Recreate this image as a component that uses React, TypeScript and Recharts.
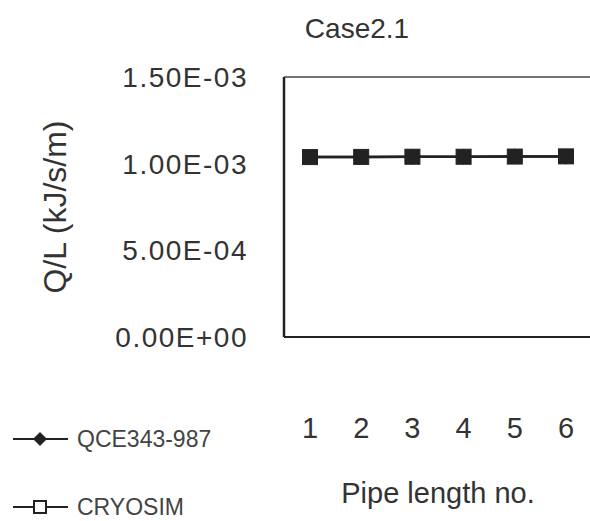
import React from 'react';
import { LineChart, Line, XAxis, YAxis, ReferenceLine, Label } from 'recharts';

const pipeNos = ['1', '2', '3', '4', '5', '6'];
const qce343 = [0.001038, 0.001039, 0.00104, 0.00104, 0.001041, 0.001042];
const cryosim = [0.001038, 0.001039, 0.00104, 0.00104, 0.001041, 0.001042];
const yTicks = [0, 0.0005, 0.001, 0.0015];
const yTickLabels = ['0.00E+00', '5.00E-04', '1.00E-03', '1.50E-03'];
const seriesNames = ['QCE343-987', 'CRYOSIM'];

const data = pipeNos.map((no, i) => ({ no, qce: qce343[i], cryo: cryosim[i] }));

const FONT = '"Liberation Sans", Arial, sans-serif';
const INK = '#222';
const TEXT = '#333';

const DiamondDot = ({ cx, cy }: any) => (
  <path d={`M${cx},${cy - 8} L${cx + 8},${cy} L${cx},${cy + 8} L${cx - 8},${cy} Z`} fill={INK} />
);

const SquareDot = ({ cx, cy }: any) => (
  <rect x={cx - 7.5} y={cy - 7.5} width={15} height={15} fill={INK} stroke={INK} strokeWidth={1} />
);

const XTick = ({ x, y, payload }: any) => (
  <text x={x} y={y + 91} textAnchor="middle" dominantBaseline="central" fontSize={29} fontFamily={FONT} fill={TEXT}>
    {payload.value}
  </text>
);

// legend drawn beside the chart, bottom left
const LegendBox = () => (
  <svg width={280} height={110} style={{ position: 'absolute', left: 0, top: 415 }}>
    <line x1={13} y1={24} x2={68} y2={24} stroke={INK} strokeWidth={2} />
    <path d="M40,17 L47,24 L40,31 L33,24 Z" fill={INK} />
    <text x={77} y={24} dominantBaseline="central" fontSize={23} fontFamily={FONT} fill="#444">{seriesNames[0]}</text>
    <line x1={13} y1={92} x2={68} y2={92} stroke={INK} strokeWidth={2} />
    <rect x={34} y={86} width={12} height={12} fill="#fff" stroke={INK} strokeWidth={2} />
    <text x={77} y={92} dominantBaseline="central" fontSize={23} fontFamily={FONT} fill="#444">{seriesNames[1]}</text>
  </svg>
);

export default function App() {
  return (
    <div style={{ position: 'absolute', left: 0, top: 0, width: 590, height: 521, overflow: 'hidden', background: '#fff' }}>
      <div style={{ position: 'absolute', left: 0, top: 13, width: 714, textAlign: 'center', fontFamily: FONT, fontSize: 28, color: TEXT }}>
        Case2.1
      </div>
      <LineChart width={600} height={521} data={data} margin={{ top: 77, right: 8, left: 0, bottom: 0 }}>
        <XAxis
          dataKey="no"
          height={184}
          tickSize={0}
          tickMargin={0}
          tick={<XTick />}
          axisLine={{ stroke: INK, strokeWidth: 2 }}
          interval={0}
          padding={{ left: 26, right: 26 }}
        >
          <Label
            content={({ viewBox }: any) => (
              <text
                x={viewBox.x + viewBox.width / 2}
                y={viewBox.y + 156}
                textAnchor="middle"
                dominantBaseline="central"
                fontSize={29}
                fontFamily={FONT}
                fill={TEXT}
              >
                Pipe length no.
              </text>
            )}
          />
        </XAxis>
        <YAxis
          width={284}
          domain={[0, 0.0015]}
          ticks={yTicks}
          tickFormatter={(v: number) => yTickLabels[yTicks.indexOf(v)]}
          tickSize={0}
          tickMargin={36}
          tick={{ fontSize: 28, fontFamily: FONT, fill: TEXT, letterSpacing: 1.5 }}
          axisLine={{ stroke: INK, strokeWidth: 2.5 }}
        >
          <Label
            content={({ viewBox }: any) => {
              const cx = 55;
              const cy = viewBox.y + viewBox.height / 2;
              return (
                <text
                  x={cx}
                  y={cy}
                  transform={`rotate(-90 ${cx} ${cy})`}
                  textAnchor="middle"
                  dominantBaseline="central"
                  fontSize={32}
                  fontFamily={FONT}
                  fill={TEXT}
                >
                  Q/L (kJ/s/m)
                </text>
              );
            }}
          />
        </YAxis>
        <ReferenceLine y={0.0015} stroke="#444" strokeWidth={1.5} />
        <Line
          dataKey="qce"
          name={seriesNames[0]}
          stroke={INK}
          strokeWidth={2.5}
          dot={<DiamondDot />}
          isAnimationActive={false}
        />
        <Line
          dataKey="cryo"
          name={seriesNames[1]}
          stroke={INK}
          strokeWidth={2.5}
          dot={<SquareDot />}
          isAnimationActive={false}
        />
      </LineChart>
      <LegendBox />
    </div>
  );
}
